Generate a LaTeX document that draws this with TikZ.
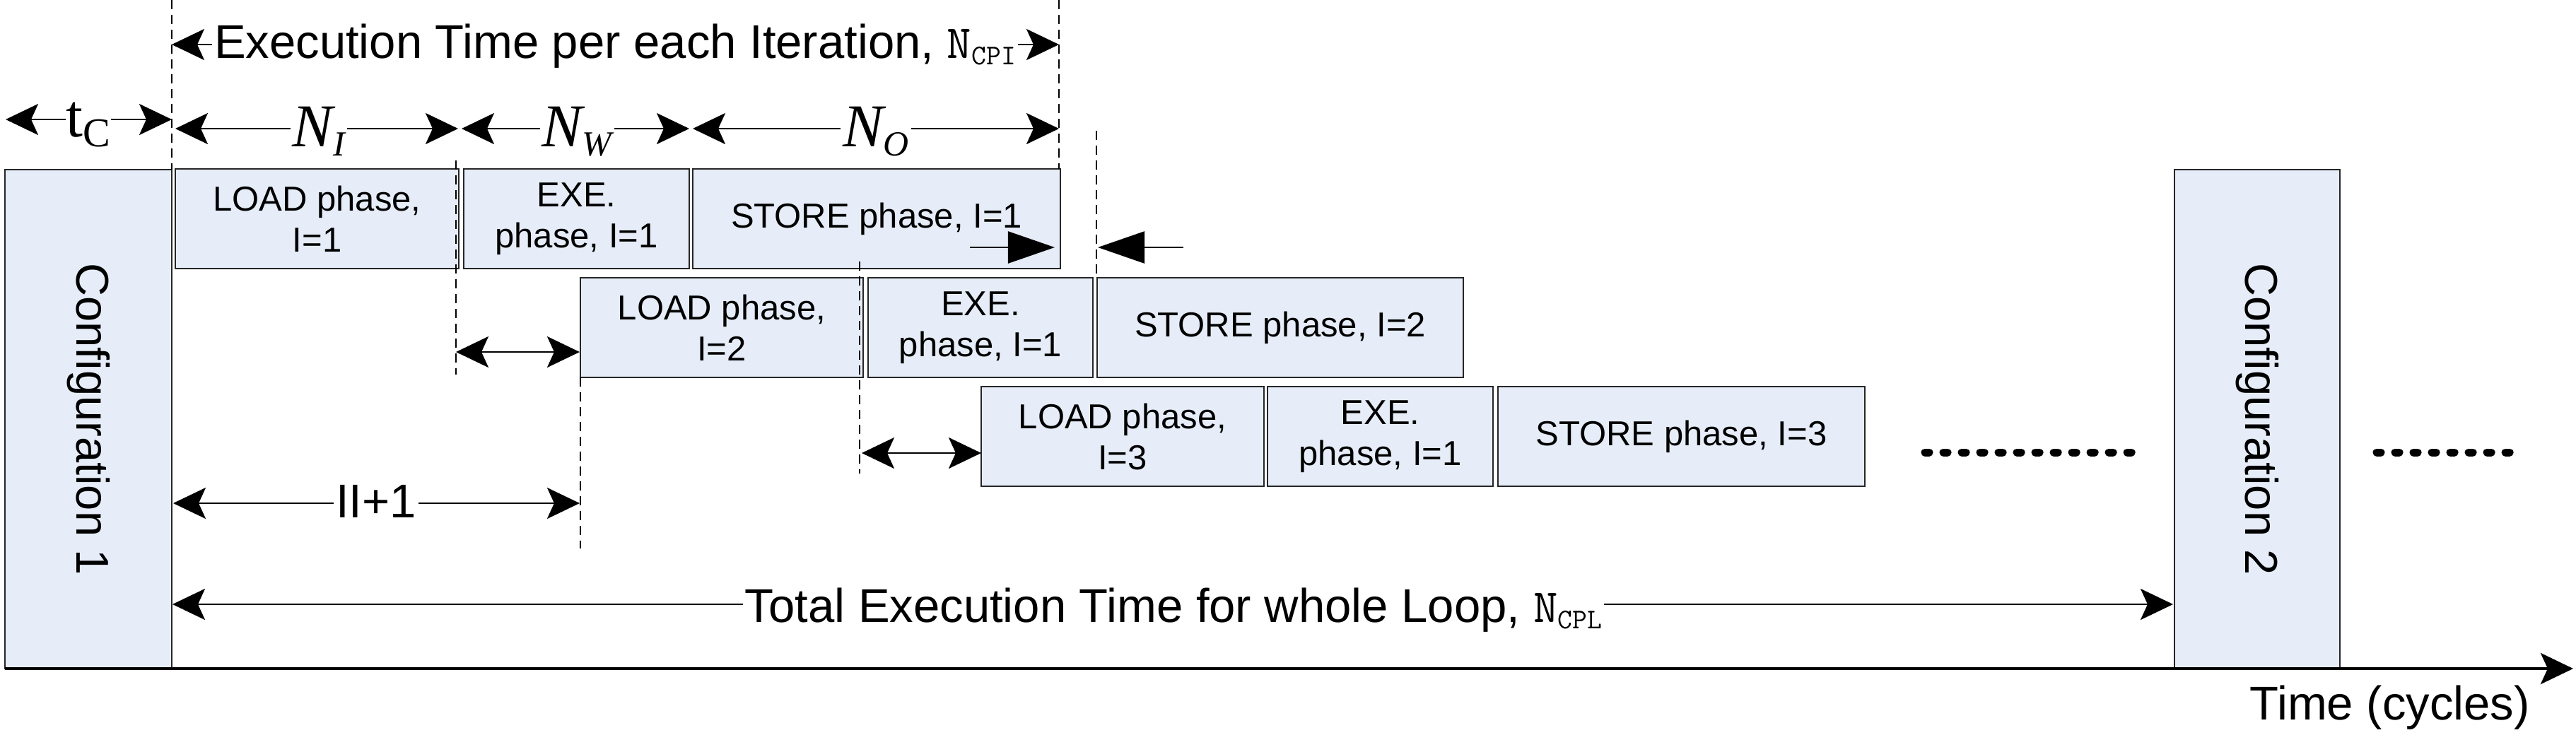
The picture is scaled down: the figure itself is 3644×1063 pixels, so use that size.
\documentclass[tikz,border=0pt]{standalone}
\usepackage{fontspec}
\setmainfont{Liberation Sans}
\newfontfamily\serf{Liberation Serif}
\usetikzlibrary{arrows.meta}
\definecolor{boxblue}{HTML}{E6EDF8}
\newcommand\lowsub[3]{\raisebox{-#1}{\fontsize{#2}{#2}\selectfont #3}}
\newcommand\boxfont{\fontsize{13.94pt}{16.5pt}\selectfont}
\newcommand\bigfont{\fontsize{19.06pt}{22pt}\selectfont}
\newcommand\cfgfont{\fontsize{18.5pt}{22pt}\selectfont}
\newcommand\nfont{\serf\fontsize{24.47pt}{28pt}\selectfont}
\tikzset{
  box/.style={draw=black!85, line width=0.025cm, fill=boxblue, inner sep=0pt, align=center, font=\boxfont},
  phase/.style={box, minimum height=1.41cm},
  guide/.style={draw=black, line width=0.02cm, dash pattern=on 0.13cm off 0.08cm},
  dimtip/.tip={Stealth[length=0.46cm,width=0.44cm,inset=0.1cm]},
  dim/.style={{dimtip}-{dimtip}, line width=0.025cm},
  tri/.style={-{Triangle[length=0.66cm,width=0.45cm]}, line width=0.025cm},
  lbl/.style={fill=white, inner xsep=0.03cm, inner ysep=0.02cm, anchor=base},
  axisline/.style={-{Stealth[length=0.46cm,width=0.44cm,inset=0.1cm]}, line width=0.04cm},
  dots/.style={line width=0.11cm, line cap=round, dash pattern=on 0.06cm off 0.20cm}
}
\begin{document}
\begin{tikzpicture}[x=0.01cm,y=-0.01cm]
\useasboundingbox (0,0) rectangle (3644,1063);

% configuration boxes
\node[box, font=\cfgfont, minimum width=7.06cm, minimum height=2.36cm, rotate=-90] (cfg1) at (125,593) {Configuration 1};
\node[box, font=\cfgfont, minimum width=7.06cm, minimum height=2.34cm, rotate=-90] (cfg2) at (3193,593) {Configuration 2};

% iteration 1
\node[phase, minimum width=4.01cm] (load1) at (448.5,309.5) {LOAD phase,\\I=1};
\node[phase, minimum width=3.19cm] (exe1) at (815.5,309.5) {EXE.\\phase, I=1};
\node[phase, minimum width=5.20cm] (store1) at (1240,309.5) {STORE phase, I=1};
% iteration 2
\node[phase, minimum width=4.00cm] (load2) at (1021,463.5) {LOAD phase,\\I=2};
\node[phase, minimum width=3.18cm] (exe2) at (1387,463.5) {EXE.\\phase, I=1};
\node[phase, minimum width=5.18cm] (store2) at (1811,463.5) {STORE phase, I=2};
% iteration 3
\node[phase, minimum width=4.00cm] (load3) at (1588,617.5) {LOAD phase,\\I=3};
\node[phase, minimum width=3.19cm] (exe3) at (1952.5,617.5) {EXE.\\phase, I=1};
\node[phase, minimum width=5.19cm] (store3) at (2378.5,617.5) {STORE phase, I=3};

% dashed guides
\coordinate (g1a) at (243,0);   \coordinate (g1b) at (243,240);
\coordinate (g2a) at (1498,0);  \coordinate (g2b) at (1498,239);
\coordinate (g3a) at (645,227); \coordinate (g3b) at (645,530);
\coordinate (g4a) at (821,534); \coordinate (g4b) at (821,776);
\coordinate (g5a) at (1216,370);\coordinate (g5b) at (1216,670);
\coordinate (g6a) at (1551,185);\coordinate (g6b) at (1551,393);
\draw[guide] (g1a) -- (g1b);
\draw[guide] (g2a) -- (g2b);
\draw[guide] (g3a) -- (g3b);
\draw[guide] (g4a) -- (g4b);
\draw[guide] (g5a) -- (g5b);
\draw[guide] (g6a) -- (g6b);

% execution time per iteration
\coordinate (ex1) at (243,63); \coordinate (ex2) at (1498,63);
\draw[dim] (ex1) -- (ex2);
\node[lbl, font=\bigfont] (exlbl) at (870,82) {Execution Time per each Iteration, {\ttfamily N\lowsub{0.09cm}{11.5pt}{CPI}}};

% t_C
\coordinate (tc1) at (8,169); \coordinate (tc2) at (243,169);
\draw[dim] (tc1) -- (tc2);
\node[lbl, font=\nfont, inner xsep=0.01cm] (tclbl) at (125,193) {t\lowsub{0.14cm}{16.5pt}{C}};

% N_I, N_W, N_O
\coordinate (ni1) at (248,182); \coordinate (ni2) at (648,182);
\coordinate (nw1) at (653,182); \coordinate (nw2) at (975,182);
\coordinate (no1) at (980,182); \coordinate (no2) at (1498,182);
\draw[dim] (ni1) -- (ni2);
\draw[dim] (nw1) -- (nw2);
\draw[dim] (no1) -- (no2);
\node[lbl, font=\nfont\itshape] (nilbl) at (451,207) {N\lowsub{0.13cm}{14.2pt}{I}};
\node[lbl, font=\nfont\itshape] (nwlbl) at (816,207) {N\lowsub{0.13cm}{14.2pt}{W}};
\node[lbl, font=\nfont\itshape] (nolbl) at (1239,207) {N\lowsub{0.13cm}{14.2pt}{O}};

% store overlap arrows
\coordinate (sa1) at (1372,350); \coordinate (sa2) at (1492,350);
\coordinate (sb1) at (1674,350); \coordinate (sb2) at (1553,350);
\draw[tri] (sa1) -- (sa2);
\draw[tri] (sb1) -- (sb2);

% small gaps
\coordinate (ga1) at (645,498);  \coordinate (ga2) at (820,498);
\coordinate (gb1) at (1219,641); \coordinate (gb2) at (1388,641);
\draw[dim] (ga1) -- (ga2);
\draw[dim] (gb1) -- (gb2);

% II+1
\coordinate (ii1) at (245,712); \coordinate (ii2) at (820,712);
\draw[dim] (ii1) -- (ii2);
\node[lbl, font=\bigfont] (iilbl) at (532,732) {II+1};

% total execution time
\coordinate (tt1) at (244,855); \coordinate (tt2) at (3074,855);
\draw[dim] (tt1) -- (tt2);
\node[lbl, font=\bigfont] (ttlbl) at (1660,880) {Total Execution Time for whole Loop, {\ttfamily N\lowsub{0.09cm}{11.5pt}{CPL}}};

% dots
\coordinate (d1a) at (2723,640); \coordinate (d1b) at (3030,640);
\coordinate (d2a) at (3362,640); \coordinate (d2b) at (3552,640);
\draw[dots] (d1a) -- (d1b);
\draw[dots] (d2a) -- (d2b);

% time axis
\coordinate (ax1) at (7,946); \coordinate (ax2) at (3640,946);
\draw[axisline] (ax1) -- (ax2);
\node[font=\bigfont, inner sep=0pt, anchor=base west] (axlbl) at (3182,1018) {Time (cycles)};
\end{tikzpicture}
\end{document}
